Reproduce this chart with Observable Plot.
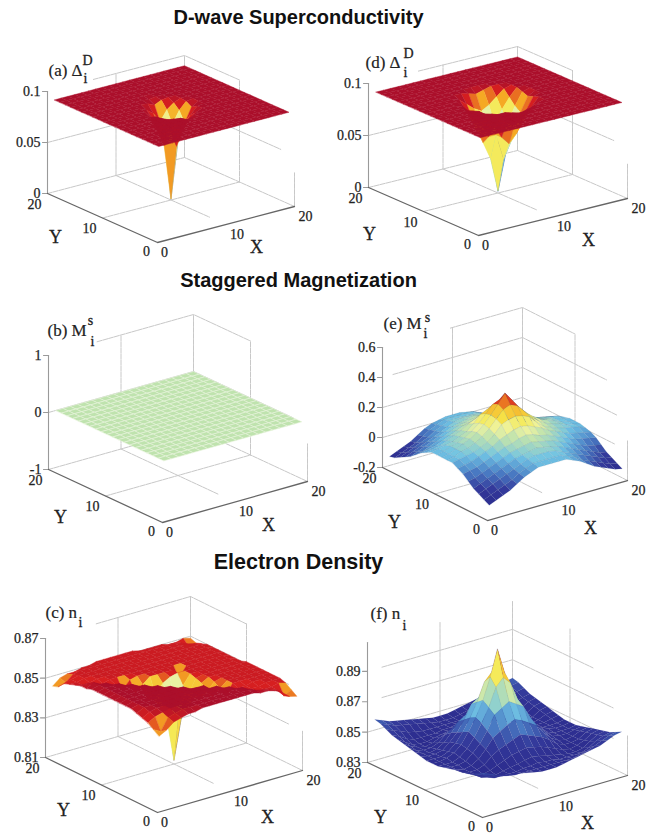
<!DOCTYPE html>
<html><head><meta charset="utf-8">
<script src="https://cdn.jsdelivr.net/npm/d3@7"></script>
<script src="https://cdn.jsdelivr.net/npm/@observablehq/plot@0.6"></script>
<style>html,body{margin:0;padding:0;background:#fff}svg{display:block}</style>
</head><body><div id="chart"></div>
<script>
const titles = ["D-wave Superconductivity","Staggered Magnetization","Electron Density"];
const flat = [.09,.09,.09,.09,.09,.09,.09,.09,.09,.09,.09,.09,.09,.09,.09,.09,.09,.09,.09,.09];
const zero = [0,0,0,0,0,0,0,0,0,0,0,0,0,0,0,0,0,0,0,0];
const gapA = [flat,flat,flat,flat,flat,
[.09,.09,.09,.09,.09,.09,.09,.09,.09,.089,.09,.09,.09,.09,.09,.09,.09,.09,.09,.09],
[.09,.09,.09,.09,.09,.09,.09,.09,.089,.086,.089,.09,.09,.09,.09,.09,.09,.09,.09,.09],
[.09,.09,.09,.09,.09,.09,.09,.087,.082,.072,.082,.087,.09,.09,.09,.09,.09,.09,.09,.09],
[.09,.09,.09,.09,.09,.09,.089,.082,.073,.055,.073,.082,.089,.09,.09,.09,.09,.09,.09,.09],
[.09,.09,.09,.09,.09,.09,.086,.072,.055,.001,.055,.072,.086,.09,.09,.09,.09,.09,.09,.09],
[.09,.09,.09,.09,.09,.09,.089,.082,.073,.055,.07,.082,.089,.09,.09,.09,.09,.09,.09,.09],
[.09,.09,.09,.09,.09,.09,.09,.087,.082,.072,.082,.087,.09,.09,.09,.09,.09,.09,.09,.09],
[.09,.09,.09,.09,.09,.09,.09,.09,.089,.086,.089,.09,.09,.09,.09,.09,.09,.09,.09,.09],
[.09,.09,.09,.09,.09,.09,.09,.09,.09,.089,.09,.09,.09,.09,.09,.09,.09,.09,.09,.09],
flat,flat,flat,flat,flat,flat];
const gapD = [flat,flat,flat,flat,flat,
[.09,.09,.09,.09,.09,.09,.09,.09,.088,.086,.088,.09,.09,.09,.09,.09,.09,.09,.09,.09],
[.09,.09,.09,.09,.09,.09,.088,.082,.076,.072,.076,.082,.088,.09,.09,.09,.09,.09,.09,.09],
[.09,.09,.09,.09,.09,.09,.082,.072,.06,.052,.06,.072,.082,.09,.09,.09,.09,.09,.09,.09],
[.09,.09,.09,.09,.09,.088,.076,.06,.06,.035,.05,.06,.076,.088,.09,.09,.09,.09,.09,.09],
[.09,.09,.09,.09,.09,.086,.072,.052,.035,.002,.035,.052,.072,.086,.09,.09,.09,.09,.09,.09],
[.09,.09,.09,.09,.09,.088,.076,.06,.05,.035,.05,.06,.076,.088,.09,.09,.09,.09,.09,.09],
[.09,.09,.09,.09,.09,.09,.082,.072,.06,.052,.06,.072,.082,.09,.09,.09,.09,.09,.09,.09],
[.09,.09,.09,.09,.09,.09,.088,.082,.076,.072,.076,.082,.088,.09,.09,.09,.09,.09,.09,.09],
[.09,.09,.09,.09,.09,.09,.09,.09,.088,.086,.088,.09,.09,.09,.09,.09,.09,.09,.09,.09],
flat,flat,flat,flat,flat,flat];
const magB = [zero,zero,zero,zero,zero,zero,zero,zero,zero,zero,zero,zero,zero,zero,zero,zero,zero,zero,zero,zero];
const magE = [
[-.13,-.11,-.09,-.07,-.04,-.01,.01,.03,.03,.03,.03,.03,.01,-.01,-.04,-.07,-.09,-.11,-.13,-.14],
[-.11,-.09,-.07,-.05,-.03,0,.02,.04,.04,.04,.04,.04,.02,0,-.03,-.05,-.07,-.09,-.11,-.12],
[-.09,-.07,-.05,-.03,-.01,.01,.03,.05,.06,.06,.06,.05,.03,.01,-.01,-.03,-.05,-.07,-.09,-.10],
[-.07,-.05,-.03,-.01,.01,.03,.05,.06,.07,.08,.07,.06,.05,.03,.01,-.01,-.03,-.05,-.07,-.08],
[-.04,-.03,-.01,.01,.03,.05,.07,.08,.09,.10,.09,.08,.07,.05,.03,.01,-.01,-.03,-.04,-.05],
[-.01,0,.01,.03,.05,.07,.09,.10,.12,.13,.12,.10,.09,.07,.05,.03,.01,0,-.01,-.02],
[.01,.02,.03,.05,.07,.09,.12,.14,.16,.17,.16,.14,.12,.09,.07,.05,.03,.02,.01,0],
[.03,.04,.05,.06,.08,.10,.14,.19,.21,.22,.21,.19,.14,.10,.08,.06,.05,.04,.03,.01],
[.03,.04,.06,.07,.09,.12,.16,.21,.26,.28,.26,.21,.16,.12,.09,.07,.06,.04,.03,.02],
[.03,.04,.06,.08,.10,.13,.17,.22,.28,.34,.28,.22,.17,.13,.10,.08,.06,.04,.03,.02],
[.03,.04,.06,.07,.09,.12,.16,.21,.26,.28,.26,.21,.16,.12,.09,.07,.06,.04,.03,.02],
[.03,.04,.05,.06,.08,.10,.14,.19,.21,.22,.21,.19,.14,.10,.08,.06,.05,.04,.03,.01],
[.01,.02,.03,.05,.07,.09,.12,.14,.16,.17,.16,.14,.12,.09,.07,.05,.03,.02,.01,0],
[-.01,0,.01,.03,.05,.07,.09,.10,.12,.13,.12,.10,.09,.07,.05,.03,.01,0,-.01,-.02],
[-.04,-.03,-.01,.01,.03,.05,.07,.08,.09,.10,.09,.08,.07,.05,.03,.01,-.01,-.03,-.04,-.05],
[-.07,-.05,-.03,-.01,.01,.03,.05,.06,.07,.08,.07,.06,.05,.03,.01,-.01,-.03,-.05,-.07,-.08],
[-.09,-.07,-.05,-.03,-.01,.01,.03,.05,.06,.06,.06,.05,.03,.01,-.01,-.03,-.05,-.07,-.09,-.10],
[-.11,-.09,-.07,-.05,-.03,0,.02,.04,.04,.04,.04,.04,.02,0,-.03,-.05,-.07,-.09,-.11,-.12],
[-.13,-.11,-.09,-.07,-.04,-.01,.01,.03,.03,.03,.03,.03,.01,-.01,-.04,-.07,-.09,-.11,-.13,-.14],
[-.14,-.12,-.10,-.08,-.05,-.02,0,.01,.02,.02,.02,.01,0,-.02,-.05,-.08,-.10,-.12,-.14,-.15]];
const densC = [
[.846,.848,.851,.852,.853,.853,.854,.854,.854,.854,.854,.854,.854,.854,.853,.853,.852,.850,.847,.846],
[.848,.846,.852,.853,.854,.854,.854,.854,.854,.854,.854,.854,.854,.854,.853,.852,.851,.850,.846,.848],
[.850,.852,.853,.854,.854,.854,.854,.854,.854,.854,.854,.854,.854,.854,.852,.850,.850,.850,.851,.850],
[.851,.853,.854,.854,.854,.854,.854,.854,.854,.854,.854,.854,.854,.852,.850,.850,.850,.851,.851,.851],
[.852,.854,.854,.854,.854,.854,.854,.854,.854,.854,.854,.854,.852,.850,.850,.850,.851,.851,.851,.851],
[.853,.854,.854,.854,.854,.854,.854,.854,.854,.854,.854,.850,.850,.846,.851,.851,.851,.851,.851,.851],
[.853,.854,.854,.854,.854,.854,.854,.854,.854,.852,.850,.849,.845,.848,.851,.851,.851,.851,.851,.851],
[.853,.854,.854,.854,.854,.854,.854,.854,.852,.849,.848,.843,.846,.850,.851,.851,.851,.851,.851,.851],
[.853,.854,.854,.854,.854,.854,.854,.852,.840,.842,.838,.843,.849,.851,.851,.851,.851,.851,.851,.851],
[.853,.854,.854,.854,.854,.854,.852,.848,.834,.812,.832,.843,.850,.851,.851,.851,.851,.851,.851,.851],
[.853,.854,.854,.854,.854,.852,.850,.843,.838,.836,.836,.846,.851,.851,.851,.851,.851,.851,.851,.850],
[.853,.854,.854,.854,.852,.850,.849,.842,.843,.848,.850,.851,.851,.851,.851,.851,.851,.851,.851,.850],
[.853,.854,.854,.852,.850,.850,.845,.848,.851,.851,.851,.851,.846,.851,.851,.851,.851,.851,.851,.850],
[.852,.854,.852,.850,.850,.846,.850,.851,.851,.851,.851,.851,.851,.851,.851,.851,.851,.851,.851,.850],
[.852,.852,.850,.850,.851,.851,.851,.851,.851,.851,.851,.851,.851,.851,.851,.851,.851,.851,.851,.850],
[.851,.850,.850,.851,.851,.851,.851,.851,.851,.851,.851,.851,.851,.851,.851,.851,.851,.851,.851,.850],
[.850,.850,.851,.851,.851,.851,.851,.851,.851,.851,.851,.851,.851,.851,.851,.851,.851,.851,.851,.850],
[.849,.850,.851,.851,.851,.851,.851,.851,.851,.851,.851,.851,.851,.851,.851,.851,.851,.851,.850,.849],
[.846,.847,.850,.851,.851,.851,.851,.851,.851,.851,.851,.851,.851,.851,.851,.851,.851,.850,.847,.848],
[.845,.848,.849,.849,.850,.850,.851,.851,.851,.851,.851,.851,.850,.850,.850,.850,.849,.849,.850,.849]];
const densF = [
[.856,.854,.852,.851,.850,.849,.848,.847,.846,.846,.846,.847,.848,.849,.850,.851,.852,.854,.856,.857],
[.854,.852,.850,.848,.847,.846,.846,.846,.846,.846,.846,.846,.846,.846,.847,.848,.850,.852,.854,.855],
[.852,.850,.847,.845,.845,.845,.845,.846,.846,.847,.846,.846,.845,.845,.845,.845,.847,.850,.852,.853],
[.851,.848,.845,.844,.844,.845,.846,.847,.848,.849,.848,.847,.846,.845,.844,.844,.845,.848,.851,.852],
[.850,.847,.845,.844,.845,.847,.849,.851,.852,.853,.852,.851,.849,.847,.845,.844,.845,.847,.850,.851],
[.849,.846,.845,.845,.847,.851,.854,.856,.858,.860,.858,.856,.854,.851,.847,.845,.845,.846,.849,.850],
[.848,.846,.845,.846,.849,.854,.860,.863,.866,.868,.866,.863,.860,.854,.849,.846,.845,.846,.848,.849],
[.847,.846,.846,.847,.851,.856,.863,.872,.875,.878,.875,.872,.863,.856,.851,.847,.846,.846,.847,.848],
[.846,.846,.846,.848,.852,.858,.866,.875,.887,.892,.887,.875,.866,.858,.852,.848,.846,.846,.846,.847],
[.846,.846,.847,.849,.853,.860,.868,.878,.892,.909,.892,.878,.868,.860,.853,.849,.847,.846,.846,.847],
[.846,.846,.846,.848,.852,.858,.866,.875,.887,.892,.887,.875,.866,.858,.852,.848,.846,.846,.846,.847],
[.847,.846,.846,.847,.851,.856,.863,.872,.875,.878,.875,.872,.863,.856,.851,.847,.846,.846,.847,.848],
[.848,.846,.845,.846,.849,.854,.860,.863,.866,.868,.866,.863,.860,.854,.849,.846,.845,.846,.848,.849],
[.849,.846,.845,.845,.847,.851,.854,.856,.858,.860,.858,.856,.854,.851,.847,.845,.845,.846,.849,.850],
[.850,.847,.845,.844,.845,.847,.849,.851,.852,.853,.852,.851,.849,.847,.845,.844,.845,.847,.850,.851],
[.851,.848,.845,.844,.844,.845,.846,.847,.848,.849,.848,.847,.846,.845,.844,.844,.845,.848,.851,.852],
[.852,.850,.847,.845,.845,.845,.845,.846,.846,.847,.846,.846,.845,.845,.845,.845,.847,.850,.852,.853],
[.854,.852,.850,.848,.847,.846,.846,.846,.846,.846,.846,.846,.846,.846,.847,.848,.850,.852,.854,.855],
[.856,.854,.852,.851,.850,.849,.848,.847,.846,.846,.846,.847,.848,.849,.850,.851,.852,.854,.856,.857],
[.857,.855,.853,.852,.851,.850,.849,.848,.847,.847,.847,.848,.849,.850,.851,.852,.853,.855,.857,.858]];
const xyTicks = [0,10,20];
const panelLetters = ["(a) Δ","(d) Δ","(b) M","(e) M","(c) n","(f) n"];

// Layout of each box: where its corners fall on the page
const layout = [
 {rows:gapA,o:[157,242],xv:[137,-36],yv:[-110,-49],zh:102,zd:[0,.1],zt:[0,.05,.1],zl:["0","0.05","0.1"],lines:[[.05,0,2.5],[.1,6.7,10]],
  name:panelLetters[0],nameAt:[48,70],sup:"D",supAt:[87,60],subAt:[85,78],xAt:[99,5],yAt:[-102,-5],edge:null,sw:.4},
 {rows:gapD,o:[478,235],xv:[149,-37],yv:[-110,-48],zh:104,zd:[0,.1],zt:[0,.05,.1],zl:["0","0.05","0.1"],lines:[[.05,0,2.5],[.1,6.7,10]],
  name:panelLetters[1],nameAt:[365,62],sup:"D",supAt:[408,53],subAt:[405,72],xAt:[110,5],yAt:[-109,-1],edge:null,sw:.4},
 {rows:magB,o:[162,522],xv:[145,-41],yv:[-114,-53],zh:114,zd:[-1,1],zt:[-1,0,1],zl:["-1","0","1"],lines:[[0,0,2.5],[1,6.7,10]],
  name:panelLetters[2],nameAt:[47,330],sup:"s",supAt:[90,320],subAt:[92,341],xAt:[106,3],yAt:[-102,-5],edge:"#e8f4dc",sw:.6},
 {rows:magE,o:[487,520],xv:[140,-40],yv:[-105,-53],zh:120,zd:[-.2,.6],zt:[-.2,0,.2,.4,.6],zl:["-0.2","0","0.2","0.4","0.6"],lines:[[0,0,2.5],[.2,0,2],[.4,1.5,4],[.6,9.7,10]],
  name:panelLetters[3],nameAt:[383,323],sup:"s",supAt:[427,317],subAt:[425,333],xAt:[103,8],yAt:[-93,2],edge:"#33506f",sw:.4},
 {rows:densC,o:[157,812],xv:[145,-42],yv:[-112,-55],zh:119,zd:[.81,.87],zt:[.81,.83,.85,.87],zl:["0.81","0.83","0.85","0.87"],lines:[[.83,0,2.5],[.85,0,2.5],[.87,7,10]],
  name:panelLetters[4],nameAt:[45,612],sup:"",supAt:[0,0],subAt:[80,622],xAt:[110,5],yAt:[-94,-2],edge:null,sw:.4},
 {rows:densF,o:[482,817],xv:[145,-42],yv:[-115,-55],zh:120,zd:[.83,.909],zt:[.83,.85,.87,.89],zl:["0.83","0.85","0.87","0.89"],lines:[[.85,0,2.5],[.87,2,2.5],[.89,2,6]],
  name:panelLetters[5],nameAt:[370,613],sup:"",supAt:[0,0],subAt:[404,625],xAt:[105,6],yAt:[-102,0],edge:"#2a2a80",sw:.3}
];
const colorStops = [0,.12,.25,.38,.5,.58,.68,.8,.9,1];
const colorRange = ["#2c2c8e","#33389a","#4a7cc4","#70c3e4","#bfe3ae","#eef3a0","#f6e84a","#f5a623","#d8201f","#ab0f2b"];

const project = (p,x,y,z) => [
  p.o[0] + x*p.xv[0]/20 + y*p.yv[0]/20,
  p.o[1] + x*p.xv[1]/20 + y*p.yv[1]/20 - (z-p.zd[0])/(p.zd[1]-p.zd[0])*p.zh];
const line = (...coords) => ({type:"LineString",coordinates:coords});

const marks = [];
const gridSegs=[], axisSegs=[], zAxisSegs=[], tickTexts=[], bigTexts=[], nameTexts=[], smallTexts=[];
for (const p of layout) {
  const z0=p.zd[0], z1=p.zd[1], h=z1-z0;
  gridSegs.push(line(project(p,0,20,z0),project(p,20,20,z0),project(p,20,0,z0)));
  gridSegs.push(line(project(p,10,20,z0),project(p,10,3,z0)));
  gridSegs.push(line(project(p,0,10,z0),project(p,20,10,z0)));
  gridSegs.push(line(project(p,10,20,z0),project(p,10,20,z1)));
  gridSegs.push(line(project(p,20,20,z0),project(p,20,20,z1)));
  gridSegs.push(line(project(p,20,10,z0),project(p,20,10,z1)));
  gridSegs.push(line(project(p,20,0,z0),project(p,20,0,z0+.33*h)));
  for (const [z,xs,ye] of p.lines)
    gridSegs.push(line(project(p,xs,20,z),project(p,20,20,z),project(p,20,ye,z)));
  axisSegs.push(line(project(p,0,20,z0),project(p,0,0,z0),project(p,20,0,z0)));
  zAxisSegs.push(line(project(p,0,20,z0),project(p,0,20,z1)));
  for (let i=0;i<p.zt.length;i++){
    const a=project(p,0,20,p.zt[i]);
    zAxisSegs.push(line(a,[a[0]-5,a[1]]));
    tickTexts.push({pos:a,dx:-7,dy:0,anchor:"end",text:p.zl[i]});
  }
  for (const t of xyTicks){
    tickTexts.push({pos:project(p,t,0,z0),dx:t?11:7,dy:10,anchor:"middle",text:String(t)});
    tickTexts.push({pos:project(p,0,t,z0),dx:t?-13:-11,dy:t?11:9,anchor:"middle",text:String(t)});
  }
  bigTexts.push({pos:[p.o[0]+p.xAt[0],p.o[1]+p.xAt[1]],text:"X"});
  bigTexts.push({pos:[p.o[0]+p.yAt[0],p.o[1]+p.yAt[1]],text:"Y"});
  nameTexts.push({pos:p.nameAt,text:p.name});
  if(p.sup) smallTexts.push({pos:p.supAt,text:p.sup});
  smallTexts.push({pos:p.subAt,text:"i"});
}
marks.push(Plot.geo(gridSegs,{stroke:"#c8c8c8",strokeWidth:1,strokeDasharray:"5 1",fill:"none"}));
marks.push(Plot.geo(zAxisSegs,{stroke:"#9a9a9a",strokeWidth:1.1,fill:"none"}));
marks.push(Plot.geo(axisSegs,{stroke:"#666",strokeWidth:1.3,fill:"none"}));

for (const p of layout) {
  const lo=d3.min(p.rows.flat()), hi=d3.max(p.rows.flat());
  const quads=[];
  for (let j=0;j<19;j++) for (let i=0;i<19;i++){
    const c=(a,b)=>project(p,a+1,b+1,p.rows[b][a]);
    quads.push({key:i+j,t:hi>lo?(p.rows[j][i]-lo)/(hi-lo):.5,
      geometry:{type:"Polygon",coordinates:[[c(i,j),c(i+1,j),c(i+1,j+1),c(i,j+1),c(i,j)]]}});
  }
  quads.sort((a,b)=>b.key-a.key);
  marks.push(Plot.geo(quads,{geometry:d=>d.geometry,fill:d=>d.t,
    stroke:p.edge?p.edge:d=>d.t,strokeWidth:p.sw,strokeOpacity:p.edge&&p.edge!="#e8f4dc"?.22:1}));
}
const xOf=d=>d.pos[0], yOf=d=>d.pos[1];
for (const anchor of ["end","middle"])
  marks.push(Plot.text(tickTexts.filter(d=>d.anchor==anchor),{x:d=>d.pos[0]+d.dx,y:d=>d.pos[1]+d.dy,text:"text",textAnchor:anchor,
    fontFamily:"Liberation Serif",fontSize:14,fill:"#222",stroke:"#222",strokeWidth:.25}));
marks.push(Plot.text(bigTexts,{x:xOf,y:yOf,text:"text",fontFamily:"Liberation Serif",fontSize:18,fill:"#222",stroke:"#222",strokeWidth:.3}));
marks.push(Plot.text(nameTexts,{x:xOf,y:yOf,text:"text",textAnchor:"start",fontFamily:"Liberation Serif",fontSize:17,fill:"#222",stroke:"#222",strokeWidth:.2}));
marks.push(Plot.text(smallTexts,{x:xOf,y:yOf,text:"text",fontFamily:"Liberation Serif",fontSize:14,fill:"#222",stroke:"#222",strokeWidth:.3}));
const titleAt=[[298,17],[298,280],[298,562]];
const titleSize=[20,20,21.5];
titles.forEach((text,i)=>marks.push(Plot.text([text],{x:()=>titleAt[i][0],y:()=>titleAt[i][1],text:d=>d,fontFamily:"Liberation Sans",fontWeight:"bold",fontSize:titleSize[i],fill:"#111"})));

document.getElementById("chart").append(Plot.plot({
  width:663,height:834,margin:0,projection:"identity",
  color:{type:"linear",domain:colorStops,range:colorRange},
  marks}));
</script></body></html>
